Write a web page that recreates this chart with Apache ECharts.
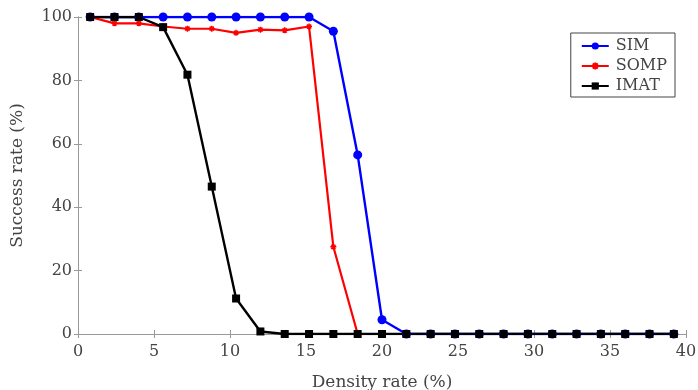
<!DOCTYPE html>
<html>
<head>
<meta charset="utf-8">
<script src="https://cdn.jsdelivr.net/npm/echarts@6/dist/echarts.min.js"></script>
<style>
  html, body { margin: 0; padding: 0; background: #fff; }
  #chart { width: 698px; height: 390px; }
</style>
</head>
<body>
<div id="chart"></div>
<script>
var density = [0.8, 2.4, 4.0, 5.6, 7.2, 8.8, 10.4, 12.0, 13.6, 15.2, 16.8, 18.4, 20.0,
  21.6, 23.2, 24.8, 26.4, 28.0, 29.6, 31.2, 32.8, 34.4, 36.0, 37.6, 39.2];
var sim = [100, 100, 100, 100, 100, 100, 100, 100, 100, 100, 95.5, 56.5, 4.5,
  0, 0, 0, 0, 0, 0, 0, 0, 0, 0, 0, 0];
var somp = [100, 98, 98, 97, 96.3, 96.3, 95, 96, 95.8, 97, 27.5, 0, 0,
  0, 0, 0, 0, 0, 0, 0, 0, 0, 0, 0, 0];
var imat = [100, 100, 100, 96.8, 81.8, 46.5, 11.2, 0.8, 0, 0, 0, 0, 0,
  0, 0, 0, 0, 0, 0, 0, 0, 0, 0, 0, 0];
var xTicks = [0, 5, 10, 15, 20, 25, 30, 35, 40];
var yTicks = [0, 20, 40, 60, 80, 100];

function pairs(ys) {
  return density.map(function (x, i) { return [x, ys[i]]; });
}

var font = 'DejaVu Serif';
var txt = '#444';
var axisGray = '#999';

var myChart = echarts.init(document.getElementById('chart'));
var option = {
  animation: false,
  textStyle: { fontFamily: font },
  grid: { left: 78, right: 12, top: 17, bottom: 56, containLabel: false, outerBoundsMode: 'none' },
  legend: {
    orient: 'vertical',
    right: 23,
    top: 33,
    itemWidth: 27,
    itemHeight: 9,
    itemGap: 4,
    padding: [5, 8, 3, 10],
    borderColor: '#444',
    borderWidth: 1,
    textStyle: { fontFamily: font, fontSize: 16, color: txt, padding: [0, 0, 0, 2] },
    data: ['SIM', 'SOMP', 'IMAT']
  },
  xAxis: [{
    type: 'value',
    min: xTicks[0],
    max: xTicks[xTicks.length - 1],
    interval: 5,
    name: 'Density rate (%)',
    nameLocation: 'middle',
    nameGap: 40,
    nameTextStyle: { fontFamily: font, fontSize: 17, color: txt },
    axisLine: { lineStyle: { color: axisGray } },
    axisTick: { inside: true, length: 4, lineStyle: { color: axisGray } },
    axisLabel: { fontFamily: font, fontSize: 16, color: txt, margin: 10 },
    splitLine: { show: false }
  }, {
    type: 'value',
    position: 'top',
    min: xTicks[0],
    max: xTicks[xTicks.length - 1],
    interval: 5,
    axisLine: { show: true, lineStyle: { color: axisGray } },
    axisTick: { inside: true, length: 4, lineStyle: { color: axisGray } },
    axisLabel: { show: false },
    splitLine: { show: false }
  }],
  yAxis: [{
    type: 'value',
    min: yTicks[0],
    max: yTicks[yTicks.length - 1],
    interval: 20,
    name: 'Success rate (%)',
    nameLocation: 'middle',
    nameGap: 52,
    nameTextStyle: { fontFamily: font, fontSize: 17, color: txt },
    axisLine: { show: true, lineStyle: { color: axisGray } },
    axisTick: { show: true, inside: true, length: 4, lineStyle: { color: axisGray } },
    axisLabel: { fontFamily: font, fontSize: 16, color: txt, margin: 6 },
    splitLine: { show: false }
  }, {
    type: 'value',
    position: 'right',
    min: yTicks[0],
    max: yTicks[yTicks.length - 1],
    interval: 20,
    axisLine: { show: true, lineStyle: { color: axisGray } },
    axisTick: { show: true, inside: true, length: 4, lineStyle: { color: axisGray } },
    axisLabel: { show: false },
    splitLine: { show: false }
  }],
  series: [{
    name: 'SIM',
    type: 'line',
    data: pairs(sim),
    symbol: 'circle',
    symbolSize: 9,
    color: '#0000ff',
    lineStyle: { width: 2.4, color: '#0000ff' },
    itemStyle: { color: '#0000ff' }
  }, {
    name: 'SOMP',
    type: 'line',
    data: pairs(somp),
    symbol: 'path://M0,-1L0,1M-1,0L1,0M-0.7,-0.7L0.7,0.7M-0.7,0.7L0.7,-0.7',
    symbolSize: 6,
    color: '#ff0000',
    lineStyle: { width: 2.2, color: '#ff0000' },
    itemStyle: { color: '#ff0000', borderColor: '#ff0000', borderWidth: 1.5 }
  }, {
    name: 'IMAT',
    type: 'line',
    data: pairs(imat),
    symbol: 'rect',
    symbolSize: 8,
    color: '#000000',
    lineStyle: { width: 2.4, color: '#000000' },
    itemStyle: { color: '#000000' }
  }]
};
myChart.setOption(option);
</script>
</body>
</html>
